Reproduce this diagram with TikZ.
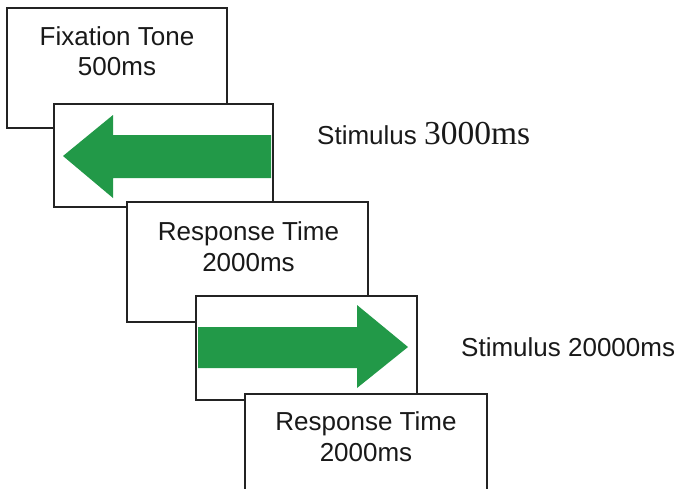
\documentclass[tikz,border=0pt]{standalone}
\usepackage{fontspec}
\newfontfamily\labelsans{Liberation Sans}
\newfontfamily\labelserif{Liberation Serif}
\definecolor{arrowgreen}{RGB}{34,153,72}
\definecolor{frame}{RGB}{35,35,35}
\tikzset{
  screen/.style={draw=frame, line width=1.2pt, fill=white, inner sep=0pt},
  caption/.style={inner sep=0pt, anchor=base, text=black!90, font=\labelsans\fontsize{26}{30}\selectfont},
  sidelabel/.style={inner sep=0pt, anchor=base west, text=black!90, font=\labelsans\fontsize{26}{30}\selectfont},
  cue/.style={fill=arrowgreen, draw=none}
}
\begin{document}
\begin{tikzpicture}[x=1pt, y=-1pt]
  \clip (0,0) rectangle (680,488);
  \fill[white] (0,0) rectangle (680,488);

  % fixation screen
  \node[screen, minimum width=220pt, minimum height=120pt] (fix) at (117,68) {};
  \node[caption] (fixa) at (117,45) {Fixation Tone};
  \node[caption] (fixb) at (117,75) {500ms};

  % first stimulus: left arrow
  \node[screen, minimum width=219pt, minimum height=103pt] (stimL) at (163.5,155.5) {};
  \fill[cue] (271,135) -- (113,135) -- (113,115) -- (63,156) -- (113,198)
             -- (113,178) -- (271,178) -- cycle;
  \node[sidelabel] (labL) at (317,144) {Stimulus {\labelserif\fontsize{33.5}{36}\selectfont 3000ms}};

  % first response window
  \node[screen, minimum width=241pt, minimum height=120pt] (resp1) at (247.5,262) {};
  \node[caption] (resp1a) at (248.5,240) {Response Time};
  \node[caption] (resp1b) at (248.5,271) {2000ms};

  % second stimulus: right arrow
  \node[screen, minimum width=221pt, minimum height=104pt] (stimR) at (306.5,348) {};
  \fill[cue] (198,327) -- (357,327) -- (357,305) -- (408,347) -- (357,388)
             -- (357,368) -- (198,368) -- cycle;
  \node[sidelabel] (labR) at (461,356) {Stimulus 20000ms};

  % second response window
  \node[screen, minimum width=242pt, minimum height=120pt] (resp2) at (366,454) {};
  \node[caption] (resp2a) at (366,430) {Response Time};
  \node[caption] (resp2b) at (366,461) {2000ms};
\end{tikzpicture}
\end{document}
